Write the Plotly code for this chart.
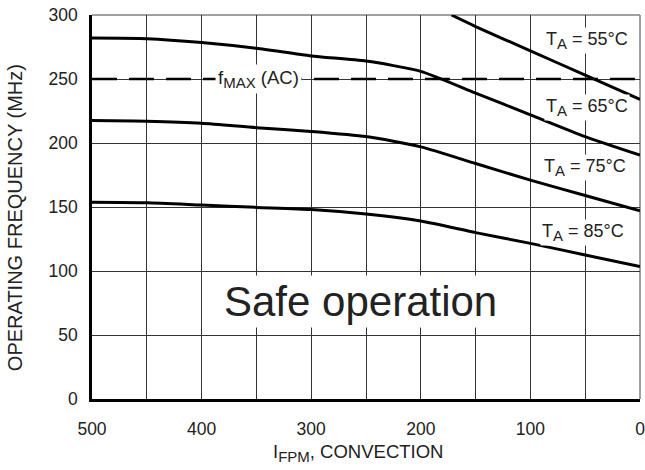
import plotly.graph_objects as go

# Data
airflow = [500, 450, 400, 350, 300, 250, 200, 150, 100, 50, 0]
freq_65 = [282, 281.5, 278.5, 274, 268, 264, 256, 239, 222, 205, 190.5]
freq_75 = [217.5, 217, 215.5, 212, 209, 205, 197, 184, 171, 159, 147]
freq_85 = [153.7, 153.3, 151.5, 149.7, 148, 144.5, 139, 130, 121.6, 112.5, 103.5]
airflow_55 = [172, 150, 100, 50, 0]
freq_55 = [300, 291, 272, 253, 234]
fmax_x = [500, 0]
fmax_y = [250, 250]

x_ticks = [500, 400, 300, 200, 100, 0]
y_ticks = [0, 50, 100, 150, 200, 250, 300]
grid_x = [450, 400, 350, 300, 250, 200, 150, 100, 50]
grid_y = [50, 100, 150, 200, 250]

SUB = '<sub><span style="font-size:15px">{}</span></sub>'
labels = [
    ("T" + SUB.format("A") + " = 55°C", 48, 280),
    ("T" + SUB.format("A") + " = 65°C", 48, 228),
    ("T" + SUB.format("A") + " = 75°C", 50, 181),
    ("T" + SUB.format("A") + " = 85°C", 52, 130),
]

FONT = "Liberation Sans, Arial, sans-serif"

fig = go.Figure()
line_style = dict(color="black", width=3, shape="spline", smoothing=0.6)
for xs, ys in [(airflow, freq_65), (airflow, freq_75), (airflow, freq_85), (airflow_55, freq_55)]:
    fig.add_trace(go.Scatter(x=xs, y=ys, mode="lines", line=line_style,
                             showlegend=False, hoverinfo="skip"))
fig.add_trace(go.Scatter(x=fmax_x, y=fmax_y, mode="lines",
                         line=dict(color="black", width=2.5, dash="25px,12px"),
                         showlegend=False, hoverinfo="skip"))

for txt, xv, yv in labels:
    fig.add_annotation(x=xv, y=yv, text=txt, showarrow=False, bgcolor="white",
                       font=dict(family=FONT, size=18, color="#222"), borderpad=1)

fig.add_annotation(x=348, y=250, text="f" + SUB.format("MAX") + " (AC)", showarrow=False,
                   bgcolor="white", font=dict(family=FONT, size=18.5, color="#222"), borderpad=2)
fig.add_annotation(x=255, y=76, text="Safe operation", showarrow=False, bgcolor="white",
                   font=dict(family=FONT, size=42, color="#222"), borderpad=2)

# axis titles placed as paper annotations to match the reference offsets
fig.add_annotation(xref="paper", yref="paper", x=0, y=0.471, xshift=-77,
                   xanchor="center", yanchor="middle",
                   text="OPERATING FREQUENCY (MHz)", textangle=-90, showarrow=False,
                   font=dict(family=FONT, size=20, color="#222"))
fig.add_annotation(xref="paper", yref="paper", x=0.485, y=0, yshift=-54,
                   xanchor="center", yanchor="middle",
                   text="I" + '<sub><span style="font-size:15px">FPM</span></sub>' + ", CONVECTION",
                   showarrow=False, font=dict(family=FONT, size=18.5, color="#222"))

fig.update_layout(
    width=645, height=470,
    margin=dict(l=92, r=5, t=15, b=71),
    plot_bgcolor="white", paper_bgcolor="white",
    font=dict(family=FONT, color="#222"),
)
fig.update_xaxes(
    range=[500, 0], tickvals=x_ticks, ticks="", ticklabelstandoff=12,
    tickfont=dict(family=FONT, size=17.5), automargin=False, ticklabeloverflow="allow",
    showgrid=True, gridcolor="#333", gridwidth=1,
    showline=True, linecolor="black", linewidth=2.5, zeroline=False,
    minor=dict(tickvals=grid_x, showgrid=True, gridcolor="#333", gridwidth=1),
)
fig.update_yaxes(
    range=[0, 300], tickvals=y_ticks, ticks="", ticklabelstandoff=8,
    tickfont=dict(family=FONT, size=17.5), automargin=False, ticklabeloverflow="allow",
    showgrid=False,
    showline=True, linecolor="black", linewidth=2.5, zeroline=False,
    minor=dict(tickvals=grid_y, showgrid=True, gridcolor="#333", gridwidth=1),
)
# frame on top/right (lighter, as in the reference)
fig.add_shape(type="line", xref="paper", yref="paper", x0=0, x1=1, y0=1, y1=1,
              line=dict(color="#808080", width=1.5), layer="below")
fig.add_shape(type="line", xref="paper", yref="paper", x0=1, x1=1, y0=0, y1=1,
              line=dict(color="#808080", width=1.5), layer="below")

fig.write_html("out.html", config={"displayModeBar": False},
               post_script="document.body.style.margin='0';document.body.style.overflow='hidden';")
